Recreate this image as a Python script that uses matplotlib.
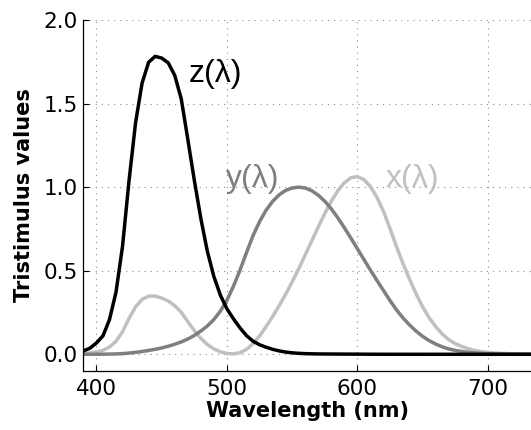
import matplotlib
matplotlib.use("Agg")
import matplotlib.pyplot as plt
import numpy as np

# CIE 1931 colour matching functions (5 nm steps)
wavelength = list(range(380, 745, 5))
x_bar = [0.001368, 0.002236, 0.004243, 0.007650, 0.014310, 0.023190, 0.043510, 0.077630,
         0.134380, 0.214770, 0.283900, 0.328500, 0.348280, 0.348060, 0.336200, 0.318700,
         0.290800, 0.251100, 0.195360, 0.142100, 0.095640, 0.057950, 0.032010, 0.014700,
         0.004900, 0.002400, 0.009300, 0.029100, 0.063270, 0.109600, 0.165500, 0.225750,
         0.290400, 0.359700, 0.433450, 0.512050, 0.594500, 0.678400, 0.762100, 0.842500,
         0.916300, 0.978600, 1.026300, 1.056700, 1.062200, 1.045600, 1.002600, 0.938400,
         0.854450, 0.751400, 0.642400, 0.541900, 0.447900, 0.360800, 0.283500, 0.218700,
         0.164900, 0.121200, 0.087400, 0.063600, 0.046770, 0.032900, 0.022700, 0.015840,
         0.011359, 0.008111, 0.005790, 0.004109, 0.002899, 0.002049, 0.001440, 0.001000,
         0.000690]
y_bar = [0.000039, 0.000064, 0.000120, 0.000217, 0.000396, 0.000640, 0.001210, 0.002180,
         0.004000, 0.007300, 0.011600, 0.016840, 0.023000, 0.029800, 0.038000, 0.048000,
         0.060000, 0.073900, 0.090980, 0.112600, 0.139020, 0.169300, 0.208020, 0.258600,
         0.323000, 0.407300, 0.503000, 0.608200, 0.710000, 0.793200, 0.862000, 0.914850,
         0.954000, 0.980300, 0.994950, 1.000000, 0.995000, 0.978600, 0.952000, 0.915400,
         0.870000, 0.816300, 0.757000, 0.694900, 0.631000, 0.566800, 0.503000, 0.441200,
         0.381000, 0.321000, 0.265000, 0.217000, 0.175000, 0.138200, 0.107000, 0.081600,
         0.061000, 0.044580, 0.032000, 0.023200, 0.017000, 0.011920, 0.008210, 0.005723,
         0.004102, 0.002929, 0.002091, 0.001484, 0.001047, 0.000740, 0.000520, 0.000361,
         0.000249]
z_bar = [0.006450, 0.010550, 0.020050, 0.036210, 0.067850, 0.110200, 0.207400, 0.371300,
         0.645600, 1.039050, 1.385600, 1.622960, 1.747060, 1.782600, 1.772110, 1.744100,
         1.669200, 1.528100, 1.287640, 1.041900, 0.812950, 0.616200, 0.465180, 0.353300,
         0.272000, 0.212300, 0.158200, 0.111700, 0.078250, 0.057250, 0.042160, 0.029840,
         0.020300, 0.013400, 0.008750, 0.005750, 0.003900, 0.002750, 0.002100, 0.001800,
         0.001650, 0.001400, 0.001100, 0.001000, 0.000800, 0.000600, 0.000340, 0.000240,
         0.000190, 0.000100, 0.000050, 0.000030, 0.000020, 0.000010, 0.0, 0.0,
         0.0, 0.0, 0.0, 0.0, 0.0, 0.0, 0.0, 0.0,
         0.0, 0.0, 0.0, 0.0, 0.0, 0.0, 0.0, 0.0,
         0.0]
x_ticks = [400, 500, 600, 700]
y_ticks = [0.0, 0.5, 1.0, 1.5, 2.0]
y_tick_labels = ["0.0", "0.5", "1.0", "1.5", "2.0"]

fig = plt.figure(figsize=(5.31, 4.30), dpi=100)
ax = fig.add_axes([0.157, 0.1372, 0.843, 0.8163])

c_x, c_y, c_z = "#c0c0c0", "#7f7f7f", "#000000"
ax.plot(wavelength, x_bar, color=c_x, lw=2.5, solid_joinstyle="round")
ax.plot(wavelength, y_bar, color=c_y, lw=2.5, solid_joinstyle="round")
ax.plot(wavelength, z_bar, color=c_z, lw=2.5, solid_joinstyle="round")

lab_font = dict(family="Liberation Sans", fontsize=23)
ax.text(470.5, 1.676, "z(λ)", color=c_z, ha="left", va="center", **lab_font)
ax.text(499.5, 1.05, "y(λ)", color=c_y, ha="left", va="center", **lab_font)
ax.text(622, 1.05, "x(λ)", color=c_x, ha="left", va="center", **lab_font)

ax.set_xlim(390, 733)
ax.set_ylim(-0.1, 2.0)
ax.set_xticks(x_ticks)
ax.set_yticks(y_ticks)
ax.set_yticklabels(y_tick_labels)
ax.tick_params(direction="in", length=4, width=0.8, labelsize=15.5)
ax.tick_params(axis="x", pad=6)
ax.tick_params(axis="y", pad=4)
for lbl in ax.get_xticklabels() + ax.get_yticklabels():
    lbl.set_family("DejaVu Sans")

ax.grid(True, color="#8a8a8a", linestyle=(0, (1, 4.5)), linewidth=0.8)
ax.set_axisbelow(True)
for s in ["top", "right"]:
    ax.spines[s].set_visible(False)
for s in ["left", "bottom"]:
    ax.spines[s].set_linewidth(0.9)

ax.set_xlabel("Wavelength (nm)", fontsize=15, fontweight="bold", family="DejaVu Sans", labelpad=1)
ax.set_ylabel("Tristimulus values", fontsize=15, fontweight="bold", family="DejaVu Sans", labelpad=7)

fig.savefig("out.png", dpi=100)
